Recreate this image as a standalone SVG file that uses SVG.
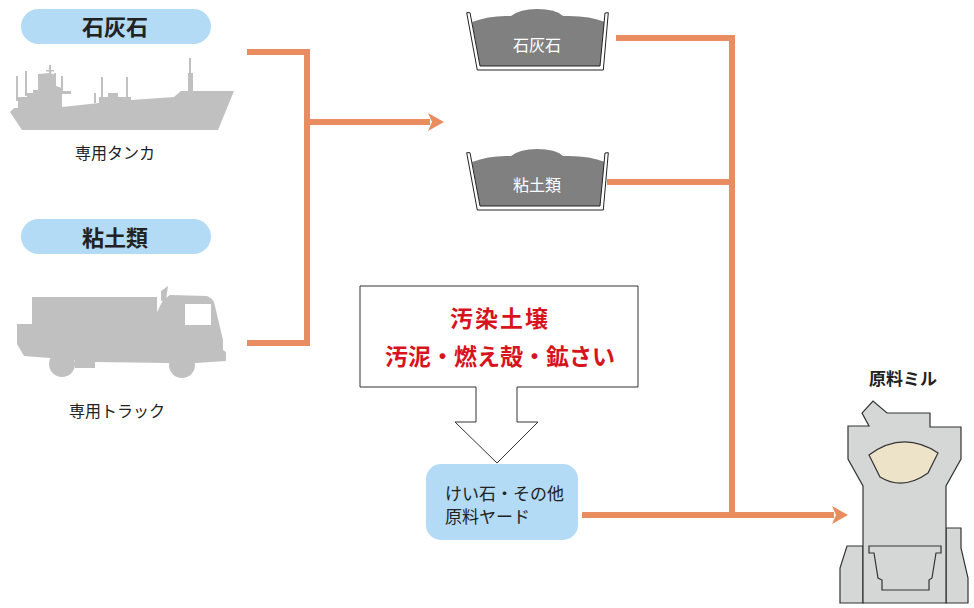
<svg xmlns="http://www.w3.org/2000/svg" width="974" height="608" viewBox="0 0 974 608">
<defs>
<style>
.jp{font-family:"Noto Sans CJK JP","Noto Sans CJK SC",sans-serif}
.pill{fill:#b3dbf5}
.pilltxt{font-size:22px;font-weight:bold;fill:#222;text-anchor:middle}
.cap{font-size:16px;fill:#222;text-anchor:middle}
.sil{fill:#c0c0c0}
.conn{fill:none;stroke:#e98c60;stroke-width:6}
.wall{fill:#fff;stroke:#222;stroke-width:1}
.heap{fill:#808080}
.bintxt{font-size:16px;fill:#fff;text-anchor:middle}
.red{font-size:23px;fill:#d7141e;text-anchor:middle;font-weight:bold}
.mill{fill:#d5d7d7;stroke:#333;stroke-width:1.2;stroke-linejoin:miter}
</style>
<marker id="ah" viewBox="0 0 16 18" refX="2" refY="9" markerWidth="16" markerHeight="18" markerUnits="userSpaceOnUse" orient="auto">
<path d="M0,0 L16,9 L0,18 L4,9 Z" fill="#e98c60"/>
</marker>
</defs>
<rect width="974" height="608" fill="#fff"/>

<g id="connectors">
<polyline class="conn" points="247,52 307,52 307,343 247,343"/>
<line class="conn" x1="307" y1="122" x2="430" y2="122" marker-end="url(#ah)"/>
<polyline class="conn" points="616,38 732,38 732,515"/>
<line class="conn" x1="607" y1="182" x2="732" y2="182"/>
<line class="conn" x1="582" y1="515" x2="834" y2="515" marker-end="url(#ah)"/>
</g>

<g id="limestone-label">
<rect class="pill" x="21" y="9" width="190" height="35" rx="17.5"/>
<text class="jp pilltxt" x="115" y="35">石灰石</text>
</g>

<g id="tanker">
<path class="sil" d="M10,112 L22,130 L218,130 L234,91 L181,91 L174,97 L131,100 L131,97 L118,97 L118,93 L108,93 L108,97 L99,97 L99,103 L62,107 L62,94 L71,94 L71,91 L62,91 L62,88 L56,86 L56,75 L50,73 L38,74 L38,90 L33,90 L33,93 L27,93 L27,97 L18,97 L18,108 L14,108 Z"/>
<rect class="sil" x="16" y="76" width="2" height="25"/>
<rect class="sil" x="25" y="71" width="2" height="25"/>
<rect class="sil" x="49" y="65" width="2" height="12"/>
<rect class="sil" x="46" y="70" width="8" height="1.5"/>
<rect class="sil" x="54" y="73" width="2" height="14"/>
<rect class="sil" x="61" y="76" width="2" height="15"/>
<rect class="sil" x="94" y="93" width="2" height="10"/>
<rect class="sil" x="101" y="77" width="2" height="20"/>
<rect class="sil" x="126" y="77" width="2" height="22"/>
<rect class="sil" x="189" y="58" width="2" height="16"/>
<rect class="sil" x="188" y="73" width="5" height="19"/>
<text class="jp cap" x="115" y="159">専用タンカ</text>
</g>

<g id="clay-label">
<rect class="pill" x="21" y="219" width="190" height="35" rx="17.5"/>
<text class="jp pilltxt" x="115" y="246">粘土類</text>
</g>

<g id="truck">
<path class="sil" d="M32,297 H157 V312 L163,300 L170,295 L207,296 Q212,298 214,302 L223,340 V350 L226,352 V361 L196,363 L168,363 L95,362 L95,368 L75,368 V360 L24,356 L17,344 V324 H32 Z"/>
<path class="sil" d="M161,291 L168,286 L166,300 L161,301 Z"/>
<circle class="sil" cx="62" cy="364" r="13"/>
<circle class="sil" cx="182" cy="365" r="13"/>
<rect x="185" y="304" width="26" height="21" fill="#fff"/>
<text class="jp cap" x="117" y="417">専用トラック</text>
</g>

<g id="bin-limestone">
<path class="heap" d="M472,22 Q490,15 511,16 Q520,9 537,9 Q556,9 563,16 Q588,15 605,22 L600,66 L480,66 Z"/>
<path class="wall" d="M466.7,12.7 L477.3,70 L603.3,70 L608.3,12.7 L605,13 L600,66 L480,66 L470,12.7 Z"/>
<text class="jp bintxt" x="537" y="51">石灰石</text>
</g>

<g id="bin-clay">
<g transform="translate(0,140)">
<path class="heap" d="M472,22 Q490,15 511,16 Q520,9 537,9 Q556,9 563,16 Q588,15 605,22 L600,66 L480,66 Z"/>
<path class="wall" d="M466.7,12.7 L477.3,70 L603.3,70 L608.3,12.7 L605,13 L600,66 L480,66 L470,12.7 Z"/>
</g>
<text class="jp bintxt" x="537" y="191">粘土類</text>
</g>

<g id="waste-input">
<path d="M360,286 H638 V387 H517 V422 H538 L497,463 L455,422 H476 V387 H360 Z" fill="#fff" stroke="#333" stroke-width="1"/>
<text class="jp red" x="500" y="327" letter-spacing="2">汚染土壌</text>
<text class="jp red" x="500" y="365" font-size="24">汚泥・燃え殻・鉱さい</text>
</g>

<g id="yard">
<rect x="426" y="464" width="152" height="76" rx="15" fill="#b3dbf5"/>
<text class="jp" x="445" y="500" font-size="17" fill="#222">けい石・その他</text>
<text class="jp" x="445" y="523" font-size="17" fill="#222">原料ヤード</text>
</g>

<g id="raw-mill">
<text class="jp" x="903" y="385" font-size="17" font-weight="bold" fill="#222" text-anchor="middle">原料ミル</text>
<path class="mill" d="M847,546 L863,546 L863,603 L840,603 L840,568 Z"/>
<path class="mill" d="M946,528 L961,528 L961,548 L968,578 L968,603 L946,603 Z"/>
<path class="mill" d="M848,426 L869,426 L862,413 L873,401 L887,413 L930,413 L930,427 L961,427 L961,459 L946,486 L946,603 L863,603 L863,486 L848,459 Z"/>
<path d="M869,455 Q903,430 938,453 L928,473 Q903,491 880,477 Z" fill="#ede3c9" stroke="#333" stroke-width="1.2"/>
<path class="mill" d="M869,546 H941 V553 H936 L932,578 L929,580 V590 H882 V580 L878,578 L874,553 H869 Z"/>
</g>
</svg>
